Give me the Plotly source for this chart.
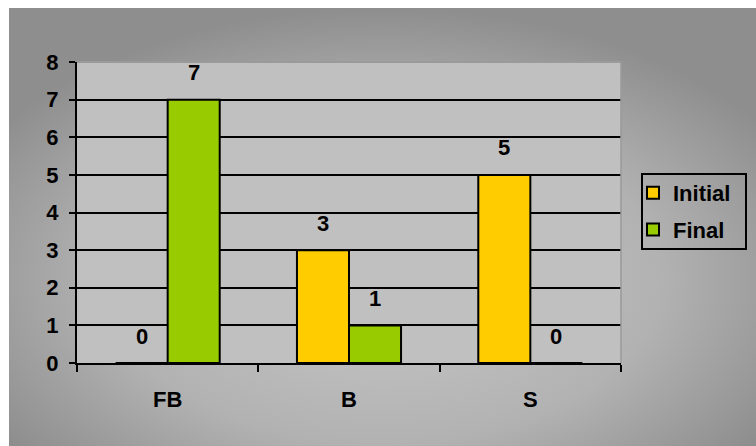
import base64
import plotly.graph_objects as go

categories = ["FB", "B", "S"]
initial = [0, 3, 5]
final = [7, 1, 0]
series_names = ["Initial", "Final"]
y_ticks = [0, 1, 2, 3, 4, 5, 6, 7, 8]

FONT = "Liberation Sans, Arial, sans-serif"
YELLOW = "#FFCC00"
GREEN = "#99CC00"

# plot area in px
L, R, T, B = 77, 621, 62, 363
W_PX, H_PX = 756, 446
pw, ph = R - L, B - T


def px_x(v):
    return (v - L) / pw


def px_y(v):
    return (B - v) / ph


svg = ("<svg xmlns='http://www.w3.org/2000/svg' width='747' height='438' viewBox='0 0 747 438' "
       "preserveAspectRatio='none'><defs><radialGradient id='g' cx='0.5' cy='0.62' r='0.62'>"
       "<stop offset='0' stop-color='#c8c8c8'/><stop offset='0.6' stop-color='#b2b2b2'/>"
       "<stop offset='1' stop-color='#8e8e8e'/></radialGradient></defs>"
       "<rect x='0' y='0' width='747' height='438' fill='url(#g)'/></svg>")
src = "data:image/svg+xml;base64," + base64.b64encode(svg.encode()).decode()

fig = go.Figure()
for name, vals, col in [(series_names[0], initial, YELLOW), (series_names[1], final, GREEN)]:
    fig.add_trace(go.Bar(
        x=categories, y=vals, name=name, legendgroup=name,
        marker=dict(color=col, line=dict(color="black", width=2)),
    ))

annotations = []
for vals, shift in [(initial, -26), (final, 26)]:
    for c, v in zip(categories, vals):
        annotations.append(dict(
            x=c, y=v, xref="x", yref="y", text=str(v), showarrow=False,
            xshift=shift, yshift=27, yanchor="middle",
            font=dict(family=FONT, size=22, color="black", weight="bold"),
        ))

fig.update_layout(
    width=W_PX, height=H_PX,
    margin=dict(l=L, r=W_PX - R, t=T, b=H_PX - B, pad=0, autoexpand=False),
    paper_bgcolor="white",
    plot_bgcolor="#C0C0C0",
    barmode="group",
    bargap=0.426,
    bargroupgap=0,
    font=dict(family=FONT, size=22, color="black", weight="bold"),
    images=[dict(
        source=src, xref="paper", yref="paper",
        x=px_x(9), y=px_y(8),
        sizex=(W_PX - 9) / pw, sizey=(H_PX - 8) / ph,
        xanchor="left", yanchor="top", sizing="stretch", layer="below",
    )],
    legend=dict(
        x=px_x(633), y=px_y(172), xanchor="left", yanchor="top",
        bgcolor="rgba(0,0,0,0)", borderwidth=0,
        font=dict(family=FONT, size=22, color="black", weight="bold"),
        traceorder="grouped", tracegroupgap=5, itemwidth=30,
    ),
    annotations=annotations,
    shapes=[
        dict(type="rect", xref="paper", yref="paper", x0=0, x1=1, y0=0, y1=1,
             fillcolor="#C0C0C0", line=dict(width=0), layer="below"),
        dict(type="line", xref="paper", yref="paper", x0=0, x1=1, y0=1, y1=1,
             line=dict(color="#9a9a9a", width=2), layer="above"),
        dict(type="line", xref="paper", yref="paper", x0=1, x1=1, y0=0, y1=1,
             line=dict(color="#9a9a9a", width=1.5), layer="above"),
        dict(type="rect", xref="paper", yref="paper",
             x0=px_x(642), x1=px_x(746), y0=px_y(249), y1=px_y(174),
             line=dict(color="black", width=2), fillcolor="rgba(0,0,0,0)", layer="above"),
    ],
    xaxis=dict(
        showgrid=False, showline=True, linecolor="black", linewidth=2,
        ticks="outside", ticklen=7, tickwidth=2, tickcolor="black",
        tickson="boundaries", ticklabelstandoff=16,
        tickfont=dict(family=FONT, size=22, color="black", weight="bold"),
    ),
    yaxis=dict(
        range=[0, 8], tickvals=y_ticks, showgrid=True, gridcolor="black", gridwidth=2,
        showline=True, linecolor="black", linewidth=2, zeroline=False,
        ticks="outside", ticklen=6, tickwidth=2, tickcolor="black",
        ticklabelstandoff=6,
        tickfont=dict(family=FONT, size=22, color="black", weight="bold"),
    ),
)

fig.write_html("out.html")
